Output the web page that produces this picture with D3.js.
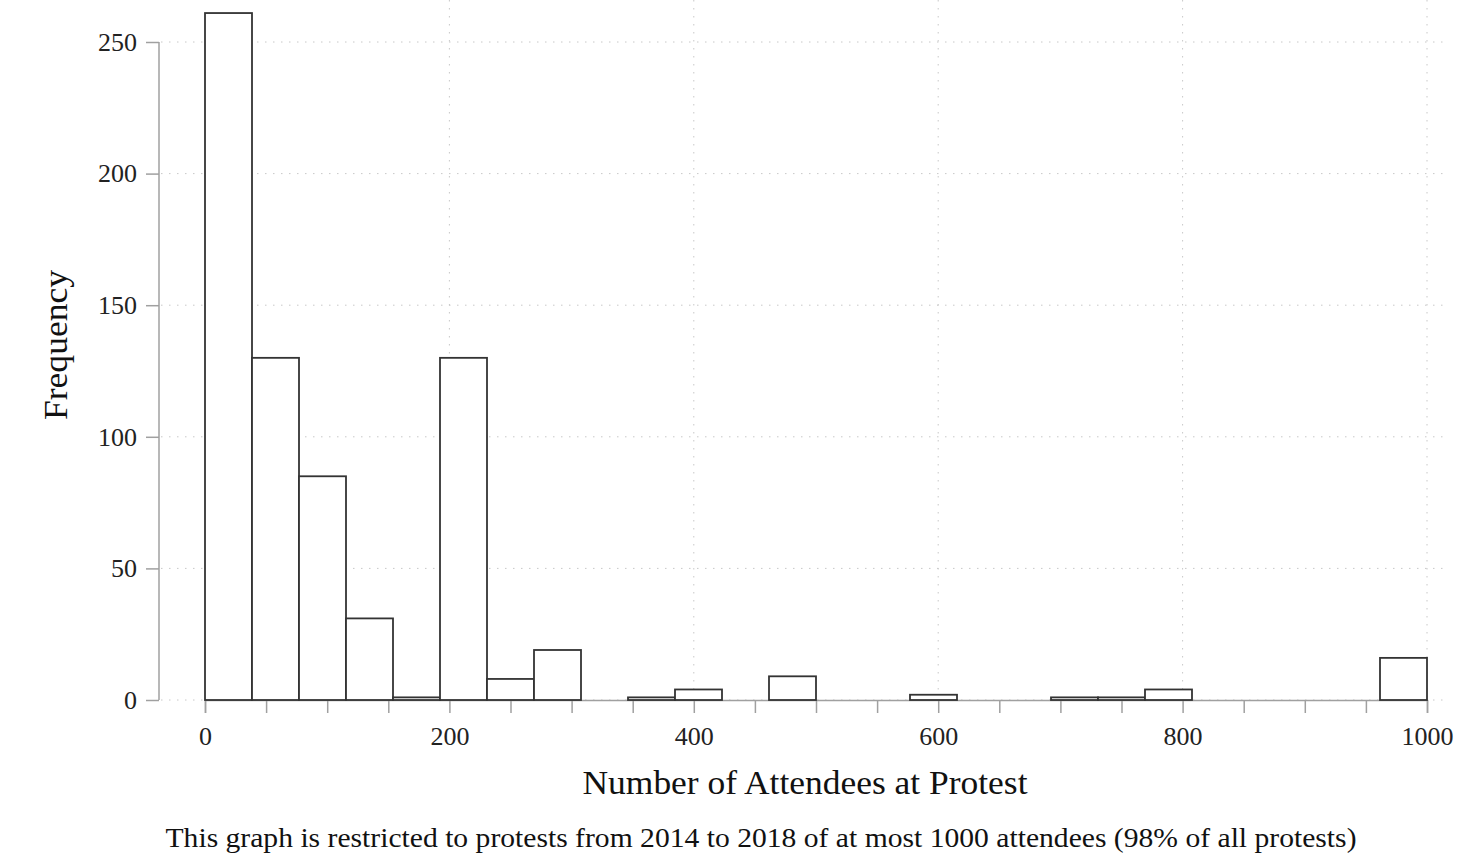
<!DOCTYPE html>
<html><head><meta charset="utf-8">
<script src="https://cdn.jsdelivr.net/npm/d3@7/dist/d3.min.js"></script>
<style>body{margin:0;background:#fff}svg{display:block}</style>
</head><body>
<svg id="c" width="1464" height="866"></svg>
<script>
const binCount = 26;
const binMax = 1000;
const counts = [261,130,85,31,1,130,8,19,0,1,4,0,9,0,0,2,0,0,1,1,4,0,0,0,0,16];
const xTicks = [0,200,400,600,800,1000];
const xMinorTicks = d3.range(0,1001,50);
const yTicks = [0,50,100,150,200,250];
const xTitle = "Number of Attendees at Protest";
const yTitle = "Frequency";
const note = "This graph is restricted to protests from 2014 to 2018 of at most 1000 attendees (98% of all protests)";

const svg = d3.select("#c");
const font = "'Liberation Serif','Times New Roman',serif";
const x = d3.scaleLinear().domain([0,1000]).range([205,1427]);
const y = d3.scaleLinear().domain([0,250]).range([700,42]);
const w = binMax/binCount;
const bins = counts.map((c,i)=>({x0:i*w,x1:(i+1)*w,c}));

// grid
const g = svg.append("g");
g.selectAll("line.h").data(yTicks).join("line")
  .attr("x1",161).attr("x2",1446).attr("y1",d=>y(d)).attr("y2",d=>y(d))
  .attr("stroke","#c8c8c8").attr("stroke-width",1).attr("stroke-dasharray","1.5,6.5");
g.selectAll("line.v").data(xTicks.filter(d=>d>0)).join("line")
  .attr("x1",d=>x(d)).attr("x2",d=>x(d)).attr("y1",0).attr("y2",700)
  .attr("stroke","#c8c8c8").attr("stroke-width",1).attr("stroke-dasharray","1.5,6.5");

// axes
const xAxis = svg.append("g").attr("transform","translate(0,700)")
  .call(d3.axisBottom(x).tickValues(xMinorTicks).tickSize(13).tickFormat(""));
xAxis.select(".domain").attr("stroke","#a0a0a0").attr("stroke-width",1.5);
xAxis.selectAll(".tick line").attr("stroke","#a0a0a0").attr("stroke-width",1.5);
const xLab = svg.append("g").attr("transform","translate(0,700)")
  .call(d3.axisBottom(x).tickValues(xTicks).tickSize(0).tickPadding(27).tickFormat(d3.format("d")));
xLab.select(".domain").remove();
xLab.selectAll("text").attr("font-family",font).attr("font-size",26).attr("fill","#222");

const yAxis = svg.append("g").attr("transform","translate(159,0)")
  .call(d3.axisLeft(y).tickValues(yTicks).tickSize(13).tickPadding(9));
yAxis.select(".domain").attr("stroke","#a0a0a0").attr("stroke-width",1.5).attr("d","M0,42V700");
yAxis.selectAll(".tick line").attr("stroke","#a0a0a0").attr("stroke-width",1.5);
yAxis.selectAll("text").attr("font-family",font).attr("font-size",26).attr("fill","#222");

// bars
svg.append("g").selectAll("rect").data(bins).join("rect")
  .attr("x",d=>x(d.x0)).attr("width",d=>x(d.x1)-x(d.x0))
  .attr("y",d=>y(d.c)).attr("height",d=>y(0)-y(d.c))
  .attr("fill","#fff").attr("stroke","#333").attr("stroke-width",1.8);

// titles
svg.append("text").attr("x",805).attr("y",794).attr("text-anchor","middle")
  .attr("font-family",font).attr("font-size",33).attr("fill","#111")
  .attr("textLength",445).attr("lengthAdjust","spacingAndGlyphs").text(xTitle);
svg.append("text").attr("transform","translate(67,345) rotate(-90)").attr("text-anchor","middle")
  .attr("font-family",font).attr("font-size",34).attr("fill","#111")
  .attr("textLength",150).attr("lengthAdjust","spacingAndGlyphs").text(yTitle);
svg.append("text").attr("x",761).attr("y",847).attr("text-anchor","middle")
  .attr("font-family",font).attr("font-size",27).attr("fill","#111")
  .attr("textLength",1191).attr("lengthAdjust","spacingAndGlyphs").text(note);
</script>
</body></html>
